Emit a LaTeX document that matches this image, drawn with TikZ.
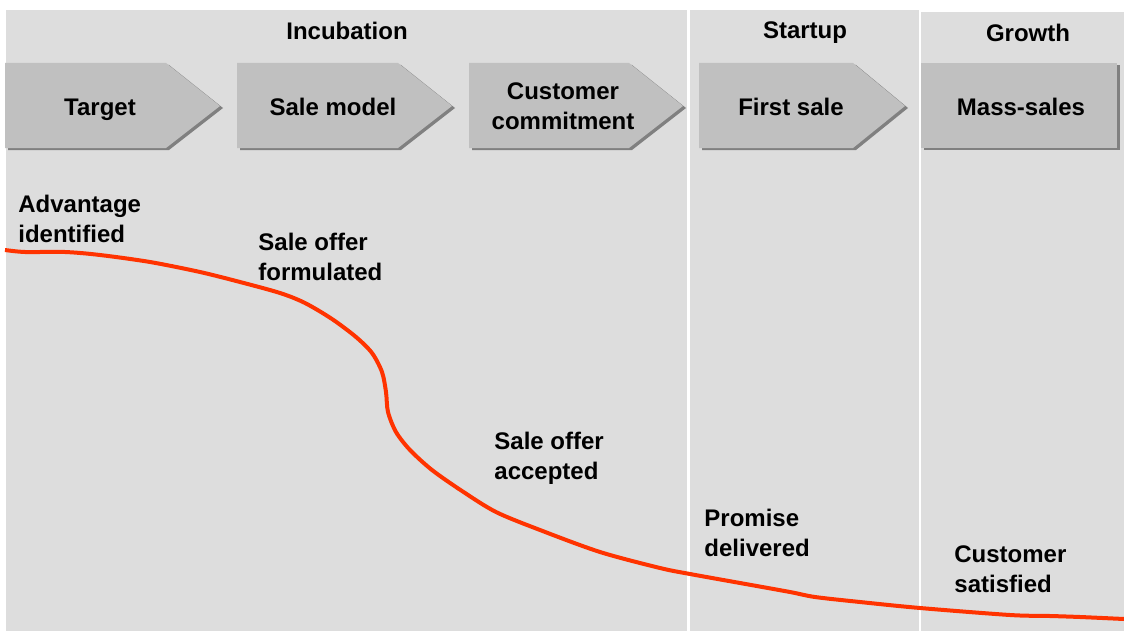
\documentclass[tikz,border=0pt]{standalone}
\usepackage{fontspec}
\setmainfont{Liberation Sans}
\usepackage{xcolor}
\definecolor{panelgray}{HTML}{DDDDDD}
\definecolor{chevgray}{HTML}{C0C0C0}
\definecolor{shadegray}{HTML}{808080}
\definecolor{curvered}{HTML}{FF3300}
\begin{document}
\begin{tikzpicture}[x=0.5pt,y=-0.5pt,
	font=\fontsize{12}{15}\selectfont\bfseries,
	phase/.style={inner sep=0pt},
	step label/.style={align=center,inner sep=0pt},
	milestone/.style={align=left,anchor=north west,inner sep=0pt},
	chev/.style={fill=chevgray},
	chev shadow/.style={fill=shadegray,shift={(3,2)}}]
	\useasboundingbox (0,0) rectangle (1124,631);
	% panels
	\fill[panelgray] (6,10) rectangle (687,631);
	\fill[panelgray] (690,10) rectangle (919,631);
	\fill[panelgray] (921,12) rectangle (1124,631);
	\node[phase] (incubation) at (347,31) {Incubation};
	\node[phase] (startup) at (805,33) {Startup};
	\node[phase] (growth) at (1028,33) {Growth};
	% chevrons
	\fill[chev shadow] (5,63) -- (166,63) -- (220,106) -- (166,148) -- (5,148) -- cycle;
	\fill[chev] (5,63) -- (166,63) -- (220,106) -- (166,148) -- (5,148) -- cycle;
	\fill[chev shadow] (237,63) -- (398,63) -- (452,106) -- (398,148) -- (237,148) -- cycle;
	\fill[chev] (237,63) -- (398,63) -- (452,106) -- (398,148) -- (237,148) -- cycle;
	\fill[chev shadow] (469,63) -- (629,63) -- (683,106) -- (629,148) -- (469,148) -- cycle;
	\fill[chev] (469,63) -- (629,63) -- (683,106) -- (629,148) -- (469,148) -- cycle;
	\fill[chev shadow] (699,63) -- (853,63) -- (905,106) -- (853,148) -- (699,148) -- cycle;
	\fill[chev] (699,63) -- (853,63) -- (905,106) -- (853,148) -- (699,148) -- cycle;
	\fill[chev shadow] (921,63) rectangle (1117,148);
	\fill[chev] (921,63) rectangle (1117,148);
	\node[step label] (target) at (100,110) {Target};
	\node[step label] (salemodel) at (333,107) {Sale model};
	\node[step label] (commitment) at (563,106) {Customer\\commitment};
	\node[step label] (firstsale) at (791,107) {First sale};
	\node[step label] (masssales) at (1021,107) {Mass-sales};
	% milestones
	\node[milestone] (identified) at (18,195) {Advantage\\identified};
	\node[milestone] (formulated) at (258,233) {Sale offer\\formulated};
	\node[milestone] (accepted) at (494,432) {Sale offer\\accepted};
	\node[milestone] (delivered) at (704,509) {Promise\\delivered};
	\node[milestone] (satisfied) at (954,545) {Customer\\satisfied};
	% curve
	\draw[curvered,line width=2pt] plot[smooth,tension=0.5] coordinates {
		(5,250) (25,252) (65,252) (100,255) (150,262) (200,272) (240,282)
		(280,293) (305,303) (332,319) (356,337) (372,353) (382,372)
		(386,392) (388,412) (396,432) (410,450) (432,470) (462,491)
		(496,512) (540,530) (600,552) (660,568) (690,574) (740,583)
		(790,592) (815,597) (860,602) (920,608) (1010,615) (1050,616)
		(1080,617) (1124,619)};
\end{tikzpicture}
\end{document}
